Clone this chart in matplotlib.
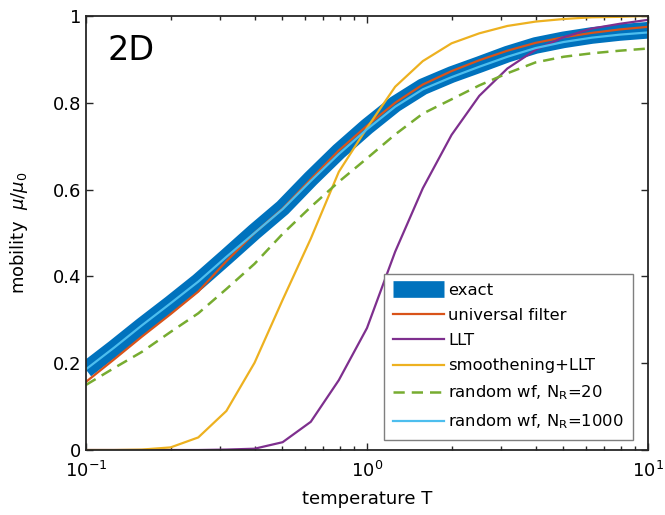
import numpy as np
import matplotlib
matplotlib.use('Agg')
import matplotlib.pyplot as plt

# temperatures: 0.1 decade steps from 0.1 to 10
T = [0.1, 0.126, 0.158, 0.2, 0.251, 0.316, 0.398, 0.501, 0.631, 0.794, 1.0,
     1.26, 1.58, 2.0, 2.51, 3.16, 3.98, 5.01, 6.31, 7.94, 10.0]

exact = [0.185, 0.235, 0.286, 0.337, 0.388, 0.445, 0.503, 0.558, 0.625, 0.688, 0.745,
         0.797, 0.837, 0.865, 0.888, 0.912, 0.932, 0.945, 0.955, 0.962, 0.967]
univ_filter = [0.157, 0.209, 0.261, 0.313, 0.365, 0.435, 0.5, 0.556, 0.624, 0.69, 0.747,
               0.8, 0.842, 0.873, 0.898, 0.92, 0.938, 0.951, 0.961, 0.969, 0.975]
llt = [0.0, 0.0, 0.0, 0.0, 0.0, 0.001, 0.003, 0.018, 0.065, 0.161, 0.281,
       0.457, 0.603, 0.726, 0.816, 0.879, 0.922, 0.951, 0.971, 0.982, 0.991]
smooth_llt = [0.0, 0.0, 0.001, 0.006, 0.029, 0.09, 0.201, 0.346, 0.487, 0.641, 0.742,
              0.837, 0.896, 0.937, 0.96, 0.977, 0.987, 0.993, 0.997, 0.998, 1.0]
rwf_20 = [0.15, 0.189, 0.226, 0.272, 0.315, 0.371, 0.429, 0.498, 0.56, 0.618, 0.672,
          0.727, 0.775, 0.808, 0.84, 0.868, 0.893, 0.906, 0.914, 0.92, 0.925]
rwf_1000 = [0.186, 0.236, 0.287, 0.338, 0.388, 0.445, 0.5, 0.555, 0.62, 0.682, 0.739,
            0.791, 0.831, 0.859, 0.883, 0.906, 0.926, 0.94, 0.95, 0.957, 0.962]

plt.rcParams['font.family'] = 'DejaVu Sans'
plt.rcParams['mathtext.fontset'] = 'dejavusans'

fig = plt.figure(figsize=(6.65, 5.15), dpi=100)
ax = fig.add_axes([0.1293, 0.1262, 0.8451, 0.8428])

ax.plot(T, exact, color='#0072BD', lw=12, solid_capstyle='butt', label='exact')
ax.plot(T, univ_filter, color='#D95319', lw=1.6, label='universal filter')
ax.plot(T, llt, color='#7E2F8E', lw=1.6, label='LLT')
ax.plot(T, smooth_llt, color='#EDB120', lw=1.6, label='smoothening+LLT')
ax.plot(T, rwf_20, color='#77AC30', lw=1.8, dashes=(4.5, 2.8),
        label=r'random wf, N$_\mathregular{R}$=20')
ax.plot(T, rwf_1000, color='#4DBEEE', lw=1.6, label=r'random wf, N$_\mathregular{R}$=1000')

ax.set_xscale('log')
ax.set_xlim(0.1, 10)
ax.set_ylim(0, 1)
ax.set_yticks([0, 0.2, 0.4, 0.6, 0.8, 1])
ax.set_yticklabels(['0', '0.2', '0.4', '0.6', '0.8', '1'])
ax.tick_params(which='both', direction='in', top=True, right=True, labelsize=13,
               color='#262626', width=1.0)
ax.tick_params(which='major', length=5)
ax.tick_params(which='minor', length=3)
ax.tick_params(axis='x', pad=8)
for s in ax.spines.values():
    s.set_linewidth(1.3)
    s.set_color('#262626')

ax.set_xlabel('temperature T', fontsize=13, labelpad=6)
ax.set_ylabel(r'mobility  $\mu/\mu_0$', fontsize=13, labelpad=16)
ax.text(0.039, 0.92, '2D', transform=ax.transAxes, fontsize=24, ha='left', va='center')

leg = ax.legend(loc='lower right', bbox_to_anchor=(0.973, 0.023), borderaxespad=0,
                fontsize=11.8, fancybox=False, framealpha=1, edgecolor='#7f7f7f',
                handlelength=3.1, handletextpad=0.25, labelspacing=0.62, borderpad=0.55)
leg.get_frame().set_linewidth(1.0)

fig.savefig('out.png', dpi=100)
